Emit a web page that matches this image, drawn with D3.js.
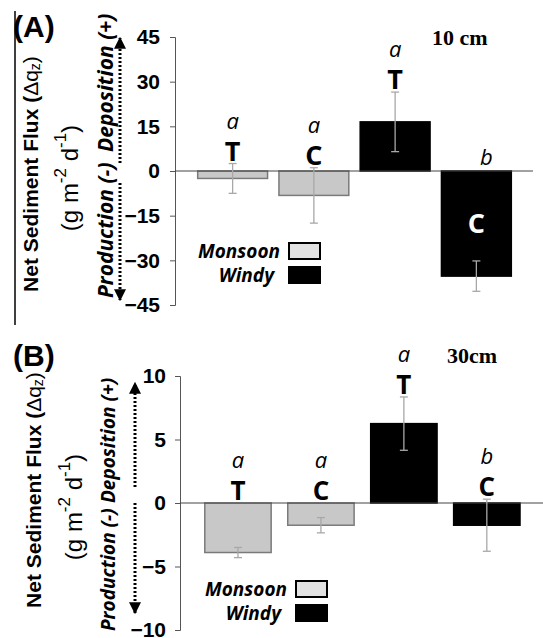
<!DOCTYPE html>
<html><head><meta charset="utf-8">
<script src="https://cdnjs.cloudflare.com/ajax/libs/d3/7.8.5/d3.min.js"></script>
<style>body{margin:0;background:#fff}svg{display:block}</style>
</head><body>
<script>
const categories = ["Monsoon T", "Monsoon C", "Windy T", "Windy C"];
const seasons = ["Monsoon", "Monsoon", "Windy", "Windy"];
const treatments = ["T", "C", "T", "C"];
const meanA = [-2.5, -8.2, 16.5, -35.3];
const errA = [5.0, 9.3, 10.0, 5.1];
const lettersA = ["a", "a", "a", "b"];
const meanB = [-3.9, -1.75, 6.25, -1.75];
const errB = [0.4, 0.6, 2.1, 2.05];
const lettersB = ["a", "a", "a", "b"];
const ticksA = [-45, -30, -15, 0, 15, 30, 45];
const ticksB = [-10, -5, 0, 5, 10];
const legendLabels = ["Monsoon", "Windy"];

const W = 543, H = 638;
const svg = d3.select("body").append("svg").attr("width", W).attr("height", H);
const defs = svg.append("defs");
defs.append("marker").attr("id", "arr").attr("viewBox", "0 0 10 10")
  .attr("refX", 9).attr("refY", 5).attr("markerWidth", 12).attr("markerHeight", 12)
  .attr("markerUnits", "userSpaceOnUse").attr("orient", "auto")
  .append("path").attr("d", "M0,0 L10,5 L0,10 Z").attr("fill", "#000");

const fillOf = s => s === "Monsoon" ? "#c8c8c8" : "#000";

// border line at left
svg.append("line").attr("x1", 15).attr("x2", 15).attr("y1", 11).attr("y2", 325)
  .attr("stroke", "#000").attr("stroke-width", 1.5);

function panel(cfg) {
  const y = d3.scaleLinear().domain(cfg.domain).range(cfg.yRange);
  const x = d3.scaleBand().domain(categories).range(cfg.xRange)
    .paddingInner(cfg.pad).paddingOuter(cfg.pad / 2);
  const g = svg.append("g");

  // axis
  const ax = g.append("g").attr("transform", `translate(${cfg.axisX},0)`)
    .call(d3.axisLeft(y).tickValues(cfg.ticks).tickSize(5).tickPadding(cfg.tickPad).tickFormat(d3.format("d")));
  ax.select(".domain").attr("stroke", "#555").attr("stroke-width", 1);
  ax.selectAll(".tick line").attr("stroke", "#555");
  ax.selectAll(".tick text").attr("font-family", "Liberation Sans, Arial, sans-serif")
    .attr("font-weight", "bold").attr("font-size", 21).attr("fill", "#000");

  // bars
  const data = categories.map((c, i) => ({c, s: seasons[i], t: treatments[i], m: cfg.mean[i], e: cfg.err[i], l: cfg.letters[i]}));
  g.selectAll("rect.bar").data(data).enter().append("rect")
    .attr("x", d => x(d.c)).attr("width", x.bandwidth())
    .attr("y", d => y(Math.max(0, d.m))).attr("height", d => Math.abs(y(d.m) - y(0)))
    .attr("fill", d => fillOf(d.s))
    .attr("stroke", d => d.s === "Monsoon" ? "#7a7a7a" : "#000").attr("stroke-width", 1.5);

  // zero line
  g.append("line").attr("x1", cfg.axisX).attr("x2", cfg.zeroEnd).attr("y1", y(0)).attr("y2", y(0))
    .attr("stroke", "#444").attr("stroke-width", 1);

  // error bars
  const eb = g.selectAll("g.eb").data(data).enter().append("g");
  const cx = d => x(d.c) + x.bandwidth() / 2;
  eb.append("line").attr("x1", cx).attr("x2", cx).attr("y1", d => y(d.m + d.e)).attr("y2", d => y(d.m - d.e))
    .attr("stroke", "#a8a8a8").attr("stroke-width", 1.3);
  [1, -1].forEach(sgn => {
    eb.append("line").attr("x1", d => cx(d) - 4).attr("x2", d => cx(d) + 4)
      .attr("y1", d => y(d.m + sgn * d.e)).attr("y2", d => y(d.m + sgn * d.e))
      .attr("stroke", "#a8a8a8").attr("stroke-width", 1.3);
  });

  // letters
  data.forEach(d => {
    const inside = Math.abs(y(d.m) - y(0)) > 60 && d.m < 0;
    let tBase, lBase, tY, tFill;
    if (inside) {
      tY = (y(0) + y(d.m)) / 2 + cfg.tSize * 0.36; tFill = "#fff";
      lBase = y(0) - 6;
    } else {
      tBase = y(Math.max(0, d.m + d.e)) - 3;
      tY = tBase; tFill = "#000";
      lBase = tBase - 32;
    }
    g.append("text").attr("x", cx(d)).attr("y", tY).attr("text-anchor", "middle")
      .attr("font-family", "Open Sans, sans-serif").attr("font-weight", "bold")
      .attr("font-size", cfg.tSize).attr("fill", tFill).text(d.t);
    g.append("text").attr("x", cx(d) + (inside ? 10 : 0)).attr("y", lBase).attr("text-anchor", "middle")
      .attr("font-family", "Open Sans, sans-serif").attr("font-style", "italic")
      .attr("font-size", 22).attr("fill", "#000").text(d.l);
  });

  // depth label
  g.append("text").attr("x", cfg.depthX).attr("y", cfg.depthY)
    .attr("font-family", "Liberation Serif, Times New Roman, serif").attr("font-weight", "bold")
    .attr("font-size", 22).text(cfg.depth);

  // legend
  legendLabels.forEach((lab, i) => {
    const ly = cfg.legY + i * 24;
    g.append("rect").attr("x", cfg.legX).attr("y", ly - 8).attr("width", 31).attr("height", 16)
      .attr("fill", i === 0 ? "#e2e2e2" : "#000").attr("stroke", "#000").attr("stroke-width", 2);
    g.append("text").attr("x", cfg.legX - (i === 0 ? 9 : 15)).attr("y", ly).attr("dominant-baseline", "central")
      .attr("text-anchor", "end").attr("font-family", "Open Sans, sans-serif")
      .attr("font-weight", "bold").attr("font-style", "italic").attr("font-size", 19).text(lab);
  });

  // panel letter
  g.append("text").attr("x", 13).attr("y", cfg.panelY).attr("font-family", "Liberation Sans, Arial, sans-serif")
    .attr("font-weight", "bold").attr("font-size", 30).text(cfg.panelLabel);

  // y titles
  const t1 = g.append("text").attr("transform", `translate(${cfg.t1x},${cfg.t1y}) rotate(-90)`)
    .attr("text-anchor", "middle").attr("dominant-baseline", "central")
    .attr("font-family", "Liberation Sans, Arial, sans-serif").attr("font-weight", "bold").attr("font-size", 21);
  t1.append("tspan").text("Net Sediment Flux (");
  t1.append("tspan").attr("font-weight", "normal").text("Δq");
  t1.append("tspan").attr("font-weight", "normal").attr("font-size", 14).attr("dy", 5).text("z");
  t1.append("tspan").attr("font-weight", "normal").attr("dy", -5).text(")");

  const t2 = g.append("text").attr("transform", `translate(${cfg.t2x},${cfg.t2y}) rotate(-90)`)
    .attr("text-anchor", "middle").attr("dominant-baseline", "central")
    .attr("font-family", "Liberation Sans, Arial, sans-serif").attr("font-size", 24);
  t2.append("tspan").text("(g m");
  t2.append("tspan").attr("font-size", 17).attr("dy", -9).text("-2");
  t2.append("tspan").attr("dy", 9).text(" d");
  t2.append("tspan").attr("font-size", 17).attr("dy", -9).text("-1");
  t2.append("tspan").attr("dy", 9).text(")");

  // production / deposition
  g.append("text").attr("transform", `translate(${cfg.pdX},${cfg.depStart}) rotate(-90)`)
    .attr("dominant-baseline", "central").attr("font-family", "Open Sans, sans-serif")
    .attr("font-weight", "bold").attr("font-style", "italic").attr("font-size", cfg.pdSize).text("Deposition (+)");
  g.append("text").attr("transform", `translate(${cfg.pdX},${cfg.prodStart}) rotate(-90)`)
    .attr("dominant-baseline", "central").attr("font-family", "Open Sans, sans-serif")
    .attr("font-weight", "bold").attr("font-style", "italic").attr("font-size", cfg.pdSize).text("Production (-)");

  // dotted arrows
  g.append("line").attr("x1", cfg.arrX).attr("x2", cfg.arrX).attr("y1", cfg.upFrom).attr("y2", cfg.upTo)
    .attr("stroke", "#000").attr("stroke-width", 3).attr("stroke-dasharray", "2,2").attr("marker-end", "url(#arr)");
  g.append("line").attr("x1", cfg.arrX).attr("x2", cfg.arrX).attr("y1", cfg.dnFrom).attr("y2", cfg.dnTo)
    .attr("stroke", "#000").attr("stroke-width", 3).attr("stroke-dasharray", "2,2").attr("marker-end", "url(#arr)");
}

panel({
  domain: [-45, 45], yRange: [305, 37], xRange: [192, 517], pad: 0.14, axisX: 175, zeroEnd: 533,
  ticks: ticksA, tickPad: 10, mean: meanA, err: errA, letters: lettersA, tSize: 27,
  depth: "10 cm", depthX: 432, depthY: 45, legX: 289, legY: 251,
  panelLabel: "(A)", panelY: 37,
  t1x: 30, t1y: 174, t2x: 69, t2y: 178,
  pdX: 105, pdSize: 21, depStart: 152, prodStart: 298,
  arrX: 120, upFrom: 163, upTo: 38, dnFrom: 183, dnTo: 300
});
panel({
  domain: [-10, 10], yRange: [630, 376], xRange: [196.5, 528.3], pad: 0.2, axisX: 180, zeroEnd: 543,
  ticks: ticksB, tickPad: 9, mean: meanB, err: errB, letters: lettersB, tSize: 26,
  depth: "30cm", depthX: 447, depthY: 363, legX: 296, legY: 589,
  panelLabel: "(B)", panelY: 366,
  t1x: 33, t1y: 490, t2x: 73, t2y: 507,
  pdX: 108, pdSize: 19, depStart: 503, prodStart: 631,
  arrX: 135, upFrom: 487, upTo: 383, dnFrom: 503, dnTo: 613
});
</script>
</body></html>
